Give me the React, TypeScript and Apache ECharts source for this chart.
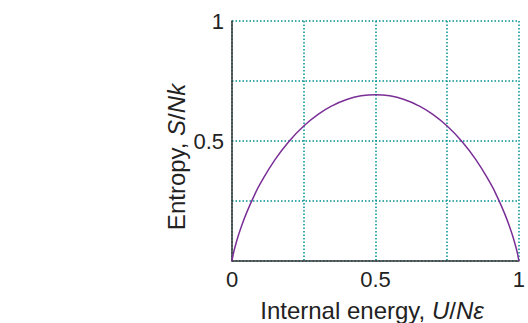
import React, { useEffect, useRef } from "react";
import * as echarts from "echarts";

const energy = [0, 0.001, 0.005, 0.01, 0.02, 0.03, 0.05, 0.075, 0.1, 0.15, 0.2, 0.25, 0.3, 0.35, 0.4, 0.45, 0.5, 0.55, 0.6, 0.65, 0.7, 0.75, 0.8, 0.85, 0.9, 0.925, 0.95, 0.97, 0.98, 0.99, 0.995, 0.999, 1];
const entropy = [0, 0.0079, 0.0315, 0.056, 0.098, 0.1348, 0.1985, 0.2664, 0.3251, 0.4227, 0.5004, 0.5623, 0.6109, 0.6474, 0.673, 0.6881, 0.6931, 0.6881, 0.673, 0.6474, 0.6109, 0.5623, 0.5004, 0.4227, 0.3251, 0.2664, 0.1985, 0.1348, 0.098, 0.056, 0.0315, 0.0079, 0];
const xTickLabels: Record<string, string> = { "0": "0", "0.5": "0.5", "1": "1" };
const yTickLabels: Record<string, string> = { "0.5": "0.5", "1": "1" };

const teal = "#00908f";
const textColor = "#222";
const fontFamily = "'Liberation Sans', Arial, Helvetica, sans-serif";

export default function App() {
  const ref = useRef<HTMLDivElement>(null);
  useEffect(() => {
    if (!ref.current) return;
    const chart = echarts.init(ref.current, null, { renderer: "svg" });
    chart.setOption({
      animation: false,
      backgroundColor: "#fff",
      grid: { left: 232, top: 21, right: 3, bottom: 62, containLabel: false },
      xAxis: {
        type: "value",
        min: 0,
        max: 1,
        interval: 0.25,
        axisLine: { show: true, onZero: false, lineStyle: { color: "#333", width: 1.5 } },
        axisTick: { show: false },
        axisLabel: {
          color: textColor,
          fontSize: 22,
          fontFamily,
          margin: 7,
          formatter: (v: number) => xTickLabels[String(v)] ?? "",
        },
        splitLine: { show: true, lineStyle: { color: teal, type: [1.5, 2], width: 1.5 } },
      },
      yAxis: {
        type: "value",
        min: 0,
        max: 1,
        interval: 0.25,
        axisLine: { show: true, onZero: false, lineStyle: { color: "#333", width: 1.5 } },
        axisTick: { show: false },
        axisLabel: {
          color: textColor,
          fontSize: 22,
          fontFamily,
          margin: 8,
          formatter: (v: number) => yTickLabels[String(v)] ?? "",
        },
        splitLine: { show: true, lineStyle: { color: teal, type: [1.5, 2], width: 1.5 } },
      },
      graphic: [
        {
          type: "text",
          x: 372,
          y: 310,
          style: {
            text: "{a|Internal energy, }{i|U}{a|/}{i|Nε}",
            align: "center",
            verticalAlign: "middle",
            rich: {
              a: { fontSize: 24, fontFamily, fill: textColor, color: textColor },
              i: { fontSize: 24, fontFamily, fontStyle: "italic", fill: textColor, color: textColor },
            },
          },
        },
        {
          type: "text",
          x: 176,
          y: 157,
          rotation: Math.PI / 2,
          style: {
            text: "{a|Entropy, }{i|S}{a|/}{i|Nk}",
            align: "center",
            verticalAlign: "middle",
            rich: {
              a: { fontSize: 24, fontFamily, fill: textColor, color: textColor },
              i: { fontSize: 24, fontFamily, fontStyle: "italic", fill: textColor, color: textColor },
            },
          },
        },
      ],
      series: [
        {
          type: "line",
          data: energy.map((x, i) => [x, entropy[i]]),
          smooth: true,
          showSymbol: false,
          lineStyle: { color: "#7a2f96", width: 1.5 },
          z: 5,
        },
      ],
    });
    return () => chart.dispose();
  }, []);
  return <div ref={ref} style={{ width: 528, height: 323, position: "absolute", left: 0, top: 0 }} />;
}
